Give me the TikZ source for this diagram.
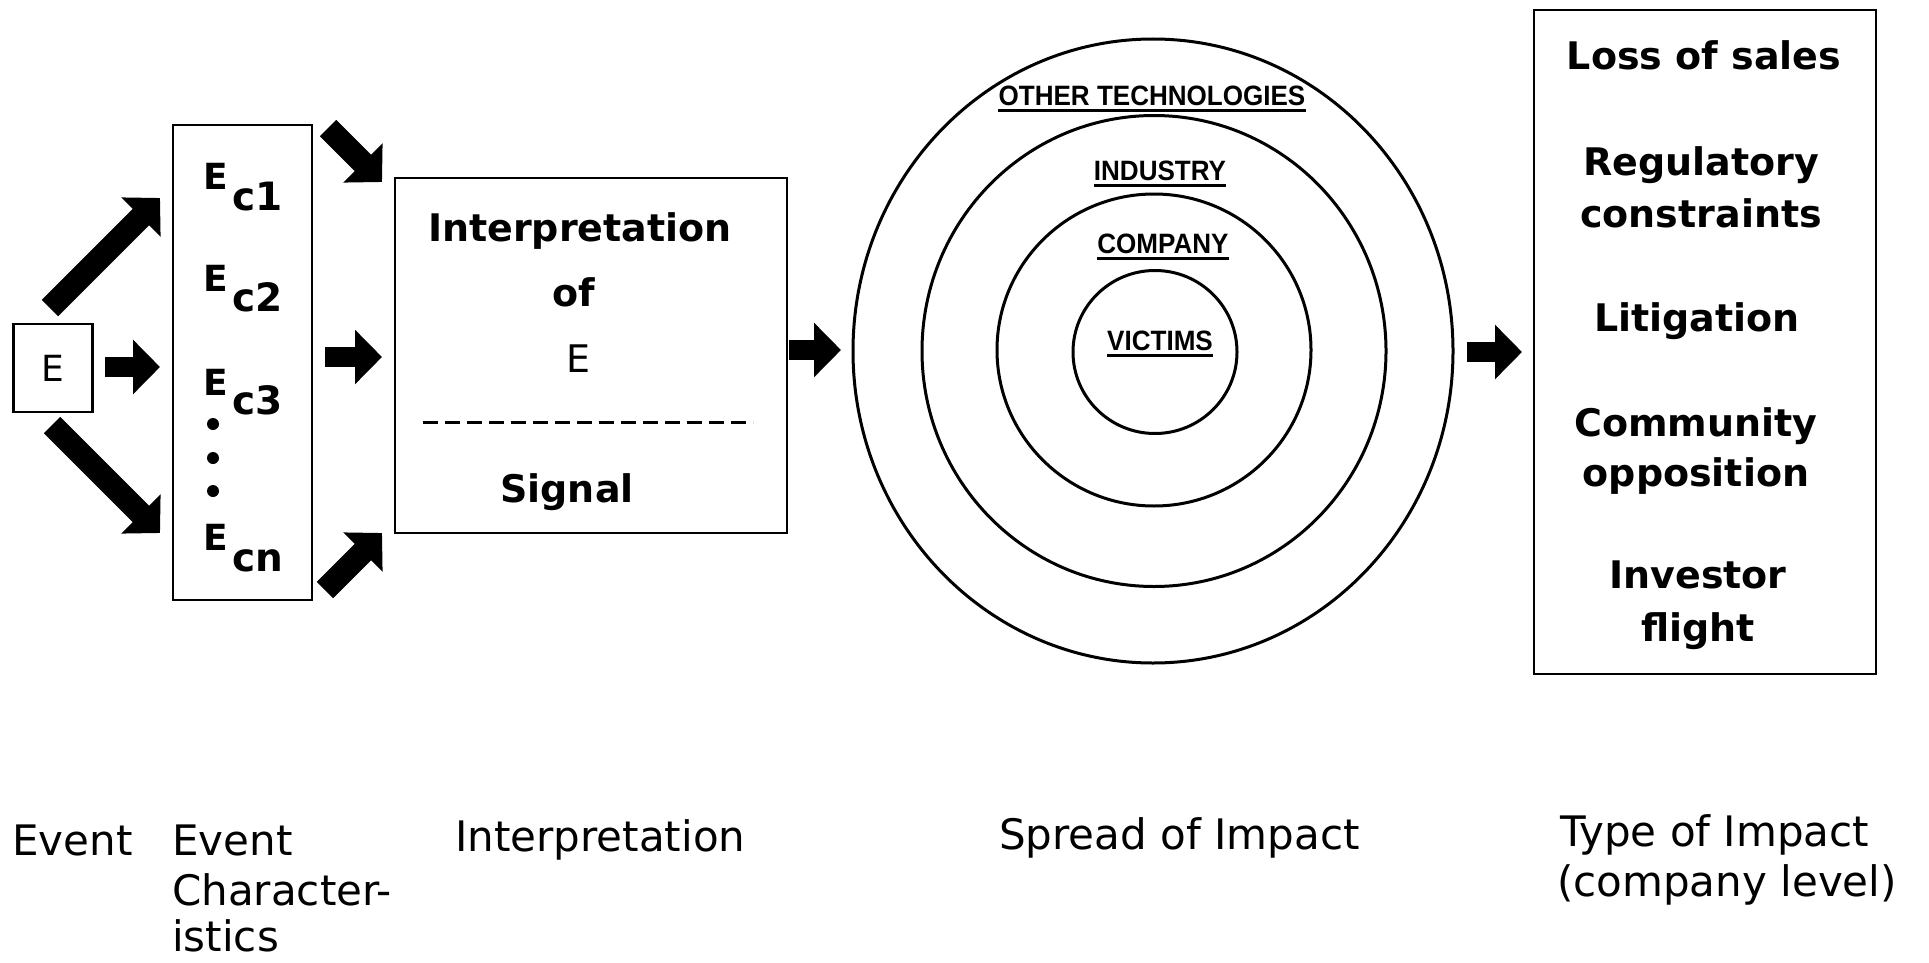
\documentclass[tikz,border=0pt]{standalone}
\usepackage{fontspec}
\setmainfont{DejaVu Sans}
\newfontfamily\ringfont[FakeStretch=0.93]{Liberation Sans}
\usetikzlibrary{arrows.meta,shapes.geometric,calc}
\begin{document}
\begin{tikzpicture}[x=1pt,y=-1pt,
  box/.style={draw, line width=2.6pt, rectangle, inner sep=0pt},
  ring/.style={draw, line width=3pt, ellipse, inner sep=0pt},
  harrow/.style={line width=20pt, -{Triangle[width=53pt,length=27pt]}},
  darrow/.style={line width=23pt, -{Triangle[width=54pt,length=27pt]}},
  btxt/.style={font=\fontsize{38}{44}\selectfont\bfseries, inner sep=0pt, anchor=base},
  etxt/.style={font=\fontsize{36}{40}\selectfont\bfseries, inner sep=0pt, anchor=base west},
  stxt/.style={font=\fontsize{39}{44}\selectfont\bfseries, inner sep=0pt, anchor=base west},
  lbl/.style={font=\fontsize{42}{50}\selectfont, inner sep=0pt, anchor=base west},
  rlbl/.style={font=\ringfont\fontsize{28}{32}\selectfont\bfseries, inner sep=0pt, anchor=base},
  uline/.style={line width=3pt},
  dot/.style={circle, fill, minimum size=12pt, inner sep=0pt},
  dashline/.style={line width=3pt, dash pattern=on 15pt off 7pt}]
\path[fill=white, use as bounding box] (0,0) rectangle (1929,963);

% Event box
\node[box, minimum width=79pt, minimum height=88pt, font=\fontsize{36}{40}\selectfont] (E) at (53,368) {E};

% Event characteristics box
\node[box, minimum width=139pt, minimum height=475pt] (Ec) at (242.5,362.5) {};
\node[etxt] (e1) at (203,189) {E};
\node[stxt] (s1) at (232,210) {c1};
\node[etxt] (e2) at (203,291) {E};
\node[stxt] (s2) at (232,311) {c2};
\node[etxt] (e3) at (203,395) {E};
\node[stxt] (s3) at (232,414) {c3};
\node[dot] (d1) at (213,424) {};
\node[dot] (d2) at (213,458) {};
\node[dot] (d3) at (213,491) {};
\node[etxt] (e4) at (203,550) {E};
\node[stxt] (s4) at (232,571) {cn};

% Interpretation box
\node[box, minimum width=392pt, minimum height=355pt] (I) at (591,355.5) {};
\node[btxt] (i1) at (580,241) {Interpretation};
\node[btxt] (i2) at (574,306) {of};
\node[btxt, font=\fontsize{38}{44}\selectfont] (i3) at (578,372) {E};
\node[btxt] (i4) at (567,502) {Signal};
\draw[dashline] (423,422) -- (753,422);

% Rings
\node[ring, minimum width=600pt, minimum height=624pt] (r1) at (1153,351) {};
\node[ring, minimum width=464pt, minimum height=471pt] (r2) at (1154,351) {};
\node[ring, minimum width=314pt, minimum height=312pt] (r3) at (1154,350) {};
\node[ring, minimum width=164pt, minimum height=163pt] (r4) at (1155,352) {};
\node[rlbl] (o1) at (1152,106) {OTHER TECHNOLOGIES};
\node[rlbl] (o2) at (1160,180) {INDUSTRY};
\node[rlbl] (o3) at (1163,253) {COMPANY};
\node[rlbl] (o4) at (1160,350) {VICTIMS};
\foreach \n in {o1,o2,o3,o4}
  \draw[uline] ([yshift=-5pt]\n.base west) -- ([yshift=-5pt]\n.base east);

% Types of impact box
\node[box, minimum width=342pt, minimum height=664pt] (T) at (1705,342) {};
\node[btxt] (t1) at (1704,70) {Loss of sales};
\node[btxt] (t2) at (1701,175) {Regulatory};
\node[btxt] (t3) at (1701,227) {constraints};
\node[btxt] (t4) at (1697,331) {Litigation};
\node[btxt] (t5) at (1696,436) {Community};
\node[btxt] (t6) at (1696,486) {opposition};
\node[btxt] (t7) at (1698,588) {Investor};
\node[btxt] (t8) at (1698,641) {flight};

% Arrow end points
\coordinate (a1s) at (50,308);  \coordinate (a1e) at (160,198);
\coordinate (a2s) at (105,367); \coordinate (a2e) at (160,367);
\coordinate (a3s) at (52,425);  \coordinate (a3e) at (160,533);
\coordinate (a4s) at (328,128); \coordinate (a4e) at (382,182);
\coordinate (a5s) at (325,357); \coordinate (a5e) at (382,357);
\coordinate (a6s) at (325,590); \coordinate (a6e) at (382,533);
\coordinate (a7s) at (789,350); \coordinate (a7e) at (841,350);
\coordinate (a8s) at (1467,352); \coordinate (a8e) at (1522,352);

\draw[darrow] (a1s) -- (a1e);
\draw[harrow] (a2s) -- (a2e);
\draw[darrow] (a3s) -- (a3e);
\draw[darrow] (a4s) -- (a4e);
\draw[harrow] (a5s) -- (a5e);
\draw[darrow] (a6s) -- (a6e);
\draw[harrow] (a7s) -- (a7e);
\draw[harrow] (a8s) -- (a8e);

% Bottom captions
\node[lbl] (b1) at (12,855) {Event};
\node[lbl] (b2) at (172,855) {Event};
\node[lbl] (b3) at (172,905) {Character-};
\node[lbl] (b4) at (172,951) {istics};
\node[lbl] (b5) at (455,851) {Interpretation};
\node[lbl] (b6) at (999,849) {Spread of Impact};
\node[lbl] (b7) at (1560,846) {Type of Impact};
\node[lbl] (b8) at (1557,896) {(company level)};
\end{tikzpicture}
\end{document}
